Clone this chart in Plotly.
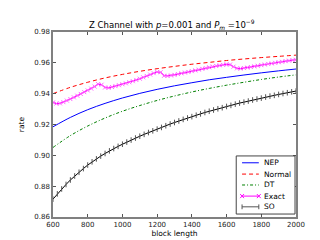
import plotly.graph_objects as go

# ---- data ----
x_smooth = [600, 700, 800, 900, 1000, 1100, 1200, 1300, 1400, 1500, 1600, 1700, 1800, 1900, 2000]
nep = [0.9185, 0.9246, 0.9296, 0.9337, 0.9372, 0.9402, 0.9428, 0.9451, 0.9471, 0.9490, 0.9506, 0.9521, 0.9535, 0.9548, 0.9560]
normal = [0.9400, 0.9441, 0.9474, 0.9502, 0.9525, 0.9545, 0.9562, 0.9577, 0.9591, 0.9603, 0.9615, 0.9625, 0.9634, 0.9642, 0.9650]
dt = [0.9051, 0.9128, 0.9190, 0.9242, 0.9286, 0.9323, 0.9356, 0.9385, 0.9411, 0.9434, 0.9455, 0.9474, 0.9492, 0.9508, 0.9522]

x_exact = list(range(600, 2001, 20))
exact = [0.9343, 0.9336, 0.9337, 0.9345, 0.9355, 0.9365, 0.9376, 0.9387, 0.9398, 0.9410,
         0.9421, 0.9433, 0.9446, 0.9462, 0.9458, 0.9440, 0.9438, 0.9443, 0.9449, 0.9455,
         0.9461, 0.9467, 0.9474, 0.9481, 0.9489, 0.9497, 0.9506, 0.9515, 0.9524, 0.9533,
         0.9541, 0.9539, 0.9516, 0.9515, 0.9518, 0.9522, 0.9527, 0.9532, 0.9537, 0.9541,
         0.9546, 0.9551, 0.9556, 0.9561, 0.9566, 0.9571, 0.9576, 0.9580, 0.9584, 0.9587,
         0.9590, 0.9589, 0.9575, 0.9564, 0.9563, 0.9566, 0.9569, 0.9573, 0.9577, 0.9581,
         0.9585, 0.9589, 0.9593, 0.9596, 0.9600, 0.9604, 0.9607, 0.9611, 0.9614, 0.9617,
         0.9620]

x_so = list(range(600, 2001, 25))
so = [0.8716, 0.8750, 0.8782, 0.8811, 0.8840, 0.8866, 0.8890, 0.8914, 0.8937, 0.8958,
      0.8977, 0.8995, 0.9012, 0.9029, 0.9044, 0.9058, 0.9072, 0.9086, 0.9099, 0.9112,
      0.9124, 0.9136, 0.9148, 0.9159, 0.9170, 0.9181, 0.9192, 0.9203, 0.9213, 0.9223,
      0.9233, 0.9242, 0.9251, 0.9260, 0.9269, 0.9278, 0.9286, 0.9294, 0.9302, 0.9309,
      0.9317, 0.9324, 0.9332, 0.9339, 0.9345, 0.9352, 0.9359, 0.9365, 0.9371, 0.9378,
      0.9384, 0.9389, 0.9395, 0.9401, 0.9406, 0.9412, 0.9417]

series_names = ["NEP", "Normal", "DT", "Exact", "SO"]
x_ticks = [600, 800, 1000, 1200, 1400, 1600, 1800, 2000]
y_ticks = [0.86, 0.88, 0.90, 0.92, 0.94, 0.96, 0.98]

FONT = "DejaVu Sans"
COLORS = {"NEP": "#0000ff", "Normal": "#ff0000", "DT": "#008000", "Exact": "#ff00ff", "SO": "#000000"}
DASHES = {"NEP": "solid", "Normal": "4px,3px", "DT": "3px,2px,1px,2px", "Exact": "solid", "SO": "solid"}

fig = go.Figure()
fig.add_trace(go.Scatter(x=x_smooth, y=nep, name="NEP", mode="lines", line_shape="spline",
                         line=dict(color=COLORS["NEP"], width=1)))
fig.add_trace(go.Scatter(x=x_smooth, y=normal, name="Normal", mode="lines", line_shape="spline",
                         line=dict(color=COLORS["Normal"], width=1, dash=DASHES["Normal"])))
fig.add_trace(go.Scatter(x=x_smooth, y=dt, name="DT", mode="lines", line_shape="spline",
                         line=dict(color=COLORS["DT"], width=1, dash=DASHES["DT"])))
fig.add_trace(go.Scatter(x=x_exact, y=exact, name="Exact", mode="lines+markers",
                         line=dict(color=COLORS["Exact"], width=1.2),
                         marker=dict(symbol="x-thin", size=4, color=COLORS["Exact"],
                                     line=dict(color="#ff66ff", width=1))))
fig.add_trace(go.Scatter(x=x_so, y=so, name="SO", mode="lines+markers",
                         line=dict(color=COLORS["SO"], width=1),
                         marker=dict(symbol="line-ns", size=4, color=COLORS["SO"],
                                     line=dict(color="#555555", width=1))))

# ---- compact matplotlib-style legend drawn in paper coordinates ----
L_X0, L_X1, L_Y0, L_Y1 = 0.754, 0.996, 0.016, 0.330
row_y = [0.293, 0.232, 0.173, 0.113, 0.055]
sym_x0, sym_x1, txt_x = 0.778, 0.847, 0.860
shapes = [dict(type="rect", xref="paper", yref="paper", x0=L_X0, x1=L_X1, y0=L_Y0, y1=L_Y1,
               line=dict(color="#444444", width=1), fillcolor="white", layer="above")]
annotations = []
for name, yy in zip(series_names, row_y):
    col = COLORS[name] if name != "SO" else "#555555"
    shapes.append(dict(type="line", xref="paper", yref="paper", x0=sym_x0, x1=sym_x1, y0=yy, y1=yy,
                       line=dict(color=col, width=1, dash=DASHES[name]), layer="above"))
    if name == "Exact":
        for cx in (sym_x0, sym_x1):
            dx, dy = 0.008, 0.011
            shapes.append(dict(type="line", xref="paper", yref="paper", x0=cx - dx, x1=cx + dx,
                               y0=yy - dy, y1=yy + dy, line=dict(color=col, width=1), layer="above"))
            shapes.append(dict(type="line", xref="paper", yref="paper", x0=cx - dx, x1=cx + dx,
                               y0=yy + dy, y1=yy - dy, line=dict(color=col, width=1), layer="above"))
    if name == "SO":
        for cx in (sym_x0, sym_x1):
            shapes.append(dict(type="line", xref="paper", yref="paper", x0=cx, x1=cx,
                               y0=yy - 0.013, y1=yy + 0.013, line=dict(color=col, width=1), layer="above"))
    annotations.append(dict(xref="paper", yref="paper", x=txt_x, y=yy, text=name, showarrow=False,
                            xanchor="left", yanchor="middle",
                            font=dict(family=FONT, size=7.5, color="#000000")))

axis_common = dict(showgrid=False, zeroline=False, showline=True, mirror="ticks",
                   linecolor="#808080", linewidth=1.5, ticks="inside", ticklen=3,
                   tickcolor="#555555", tickfont=dict(family=FONT, size=7, color="#222222"))

fig.update_layout(
    width=320, height=240,
    margin=dict(l=40, r=32, t=24, b=25),
    paper_bgcolor="white", plot_bgcolor="white",
    font=dict(family=FONT, color="#000000"),
    title=dict(text="Z Channel with <i>p</i>=0.001 and <i>P<sub>m</sub></i> =10<sup>−9</sup>",
               x=0.512, xanchor="center", y=0.93, yanchor="middle",
               font=dict(family=FONT, size=8.5)),
    xaxis=dict(range=[600, 2000], tickvals=x_ticks, ticktext=[str(v) for v in x_ticks],
               title=dict(text="block length", font=dict(family=FONT, size=7.5), standoff=2),
               **axis_common),
    yaxis=dict(range=[0.86, 0.98], tickvals=y_ticks, ticktext=["%.2f" % v for v in y_ticks],
               title=dict(text="rate", font=dict(family=FONT, size=7.5), standoff=9),
               **axis_common),
    shapes=shapes,
    annotations=annotations,
    showlegend=False,
)

fig.write_html("out.html")
